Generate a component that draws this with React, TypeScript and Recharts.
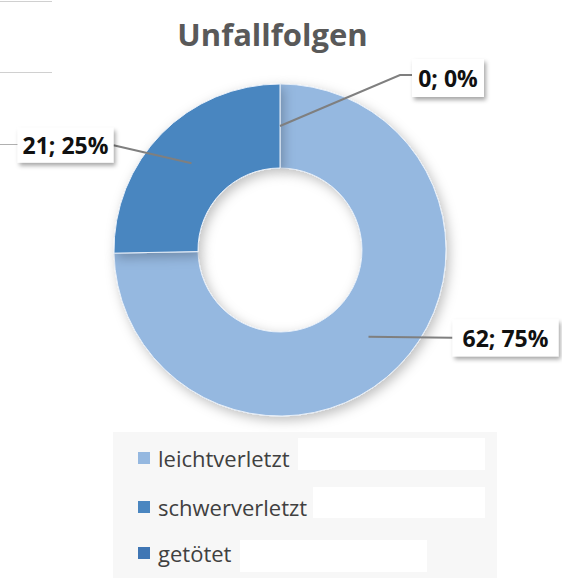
import { PieChart, Pie, Cell, Legend } from "recharts";

const categories = ["leichtverletzt", "schwerverletzt", "getötet"];
const counts = [62, 21, 0];
const percents = [75, 25, 0];
const colors = ["#95b8e0", "#4a86c0", "#3f76b4"];

const data = categories.map((name, i) => ({ name, value: counts[i], pct: percents[i] }));

// where each label box sits relative to the slice anchor (dx, dy of box center)
const labelOffsets = [
  { dx: 137, dy: 1, w: 106, h: 37 },
  { dx: -126, dy: -18, w: 96, h: 35 },
  { dx: 168, dy: -48, w: 72, h: 38 },
];

const RADIAN = Math.PI / 180;
const font = "'Open Sans', sans-serif";

function renderLabel(props: any) {
  const { cx, cy, midAngle, innerRadius, outerRadius, index, payload } = props;
  const r = (innerRadius + outerRadius) / 2;
  const ax = cx + r * Math.cos(-midAngle * RADIAN);
  const ay = cy + r * Math.sin(-midAngle * RADIAN);
  const o = labelOffsets[index];
  const bx = ax + o.dx;
  const by = ay + o.dy;
  const left = bx - o.w / 2;
  const right = bx + o.w / 2;
  const onLeft = o.dx < 0;
  const edgeX = onLeft ? right : left;
  let points = `${ax},${ay} ${edgeX},${by}`;
  if (index === 2) points = `${ax},${ay} ${left - 12},${by - 3} ${left},${by - 3}`;
  const d = payload?.payload ?? payload;
  return (
    <g>
      <polyline points={points} fill="none" stroke="#7f7f7f" strokeWidth={2} />
      <rect x={left} y={by - o.h / 2} width={o.w} height={o.h} fill="#ffffff" filter="url(#boxShadow)" />
      <text
        x={bx}
        y={by}
        textAnchor="middle"
        dominantBaseline="central"
        fontFamily={font}
        fontWeight={700}
        fontSize={23}
        fill="#111111"
      >
        {`${d.value}; ${d.pct}%`}
      </text>
    </g>
  );
}

function renderLegend() {
  return (
    <div style={{ width: 384, height: 146, background: "#f7f7f7", position: "relative" }}>
      {categories.map((name, i) => (
        <div
          key={name}
          style={{
            position: "absolute",
            left: 25,
            top: [26, 75, 121][i] - 16,
            height: 32,
            display: "flex",
            alignItems: "center",
            fontFamily: font,
            fontSize: 22,
            color: "#404040",
          }}
        >
          <span style={{ width: 12, height: 12, background: colors[i], marginRight: 8, display: "inline-block" }} />
          <span>{name}</span>
        </div>
      ))}
      <div style={{ position: "absolute", left: 185, top: 6, width: 187, height: 32, background: "#fff" }} />
      <div style={{ position: "absolute", left: 200, top: 55, width: 172, height: 31, background: "#fff" }} />
      <div style={{ position: "absolute", left: 127, top: 108, width: 187, height: 32, background: "#fff" }} />
    </div>
  );
}

export default function App() {
  return (
    <div style={{ position: "absolute", left: 0, top: 0, width: 562, height: 581, background: "#fff", overflow: "hidden" }}>
      <div style={{ position: "absolute", left: 0, top: 1, width: 52, height: 1, background: "#d0d0d0" }} />
      <div style={{ position: "absolute", left: 0, top: 72, width: 52, height: 1, background: "#d0d0d0" }} />
      <div style={{ position: "absolute", left: 0, top: 144, width: 22, height: 1, background: "#b0b0b0" }} />
      <div
        style={{
          position: "absolute",
          left: 0,
          width: 545,
          top: 13,
          textAlign: "center",
          fontFamily: font,
          fontWeight: 700,
          fontSize: 31,
          color: "#595959",
        }}
      >
        Unfallfolgen
      </div>
      <PieChart
        width={562}
        height={581}
        margin={{ top: 0, right: 0, bottom: 0, left: 0 }}
        style={{ position: "absolute", left: 0, top: 0 }}
      >
        <defs>
          <filter id="pieShadow" x="-20%" y="-20%" width="140%" height="140%">
            <feDropShadow dx="3" dy="4" stdDeviation="6" floodColor="#000" floodOpacity="0.25" />
          </filter>
          <filter id="boxShadow" x="-20%" y="-20%" width="140%" height="160%">
            <feDropShadow dx="2" dy="3" stdDeviation="2" floodColor="#000" floodOpacity="0.35" />
          </filter>
        </defs>
        <Pie
          data={data}
          dataKey="value"
          nameKey="name"
          cx={280}
          cy={250}
          innerRadius={82}
          outerRadius={166}
          startAngle={90}
          endAngle={-270}
          stroke="#e6eef8"
          strokeWidth={1}
          label={renderLabel}
          labelLine={false}
          isAnimationActive={false}
        >
          {data.map((d, i) => (
            <Cell key={d.name} fill={colors[i]} filter="url(#pieShadow)" />
          ))}
        </Pie>
        <Legend
          layout="vertical"
          content={renderLegend}
          wrapperStyle={{ position: "absolute", left: 113, top: 432, width: 384, height: 146 }}
        />
      </PieChart>
    </div>
  );
}
